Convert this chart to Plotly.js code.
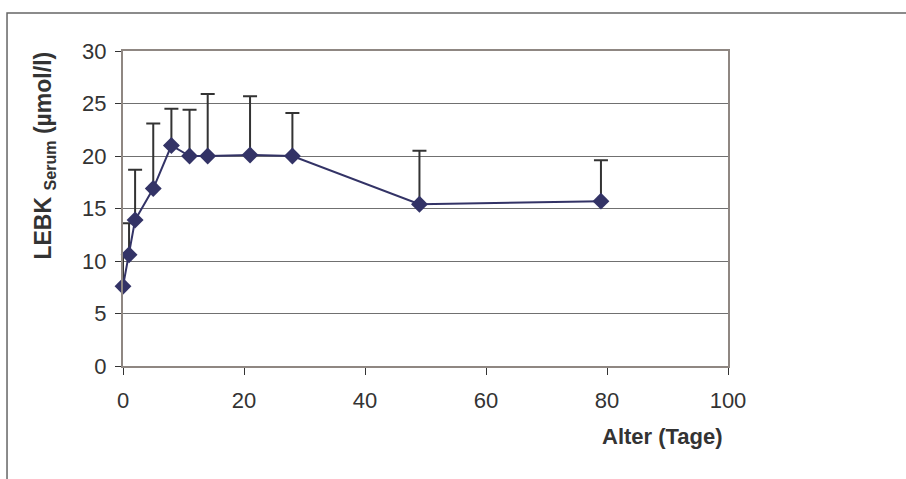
<!DOCTYPE html>
<html>
<head>
<meta charset="utf-8">
<script src="https://cdn.plot.ly/plotly-3.0.1.min.js"></script>
<style>html,body{margin:0;padding:0;background:#fff;}#chart{width:906px;height:479px;}</style>
</head>
<body>
<div id="chart"></div>
<script>
// Age in days
var ageDays = [0, 1, 2, 5, 8, 11, 14, 21, 28, 49, 79];
// Mean LEBK serum (µmol/l)
var lebkMean = [7.6, 10.6, 13.9, 16.9, 21.0, 20.0, 20.0, 20.1, 20.0, 15.4, 15.7];
// Upper error (SD)
var lebkSD = [2.8, 3.0, 4.8, 6.2, 3.5, 4.4, 5.9, 5.6, 4.1, 5.1, 3.9];
var xTicks = [0, 20, 40, 60, 80, 100];
var yTicks = [0, 5, 10, 15, 20, 25, 30];

var font = 'Liberation Sans, Arial, sans-serif';

var trace = {
  x: ageDays,
  y: lebkMean,
  type: 'scatter',
  mode: 'lines+markers',
  cliponaxis: false,
  line: {color: '#333366', width: 2},
  marker: {symbol: 'diamond', size: 13, color: '#333366'},
  error_y: {
    type: 'data',
    symmetric: false,
    array: lebkSD,
    arrayminus: lebkSD.map(function(){return 0;}),
    color: '#333333',
    thickness: 2,
    width: 7
  },
  hoverinfo: 'x+y'
};

var layout = {
  width: 906,
  height: 479,
  margin: {l: 123, r: 178, t: 51, b: 113},
  paper_bgcolor: '#ffffff',
  plot_bgcolor: '#ffffff',
  showlegend: false,
  font: {family: font, size: 22, color: '#333333'},
  xaxis: {
    range: [0, 100],
    tickvals: xTicks,
    ticktext: xTicks.map(String),
    showgrid: false,
    zeroline: false,
    showline: true,
    linecolor: '#8f8782',
    linewidth: 2,
    mirror: true,
    ticks: 'outside',
    ticklen: 7,
    tickwidth: 1,
    tickcolor: '#333333',
    ticklabelstandoff: 7,
    tickfont: {family: font, size: 22, color: '#333333'}
  },
  yaxis: {
    range: [0, 30],
    tickvals: yTicks,
    ticktext: yTicks.map(String),
    showgrid: true,
    gridcolor: '#707070',
    gridwidth: 1,
    zeroline: false,
    showline: true,
    linecolor: '#8f8782',
    linewidth: 2,
    mirror: true,
    ticks: 'outside',
    ticklen: 6,
    tickwidth: 1,
    tickcolor: '#333333',
    ticklabelstandoff: 4,
    tickfont: {family: font, size: 22, color: '#333333'}
  },
  annotations: [
    {
      text: '<b>Alter (Tage)</b>',
      xref: 'paper', yref: 'paper',
      x: 0.995, y: -0.225,
      xanchor: 'right', yanchor: 'middle',
      showarrow: false,
      font: {family: font, size: 22, color: '#333333'}
    },
    {
      text: '<b>LEBK <sub>Serum</sub> (µmol/l)</b>',
      xref: 'paper', yref: 'paper',
      x: -0.129, y: 0.668,
      xanchor: 'center', yanchor: 'middle',
      textangle: -90,
      showarrow: false,
      font: {family: font, size: 23, color: '#333333'}
    }
  ],
  shapes: [
    {
      type: 'rect', xref: 'paper', yref: 'paper',
      x0: -0.1917, x1: 2, y0: -0.6, y1: 1.1206,
      line: {color: '#666666', width: 1.5},
      fillcolor: 'rgba(0,0,0,0)',
      layer: 'below'
    }
  ]
};

Plotly.newPlot('chart', [trace], layout, {displayModeBar: false, staticPlot: true});
</script>
</body>
</html>
